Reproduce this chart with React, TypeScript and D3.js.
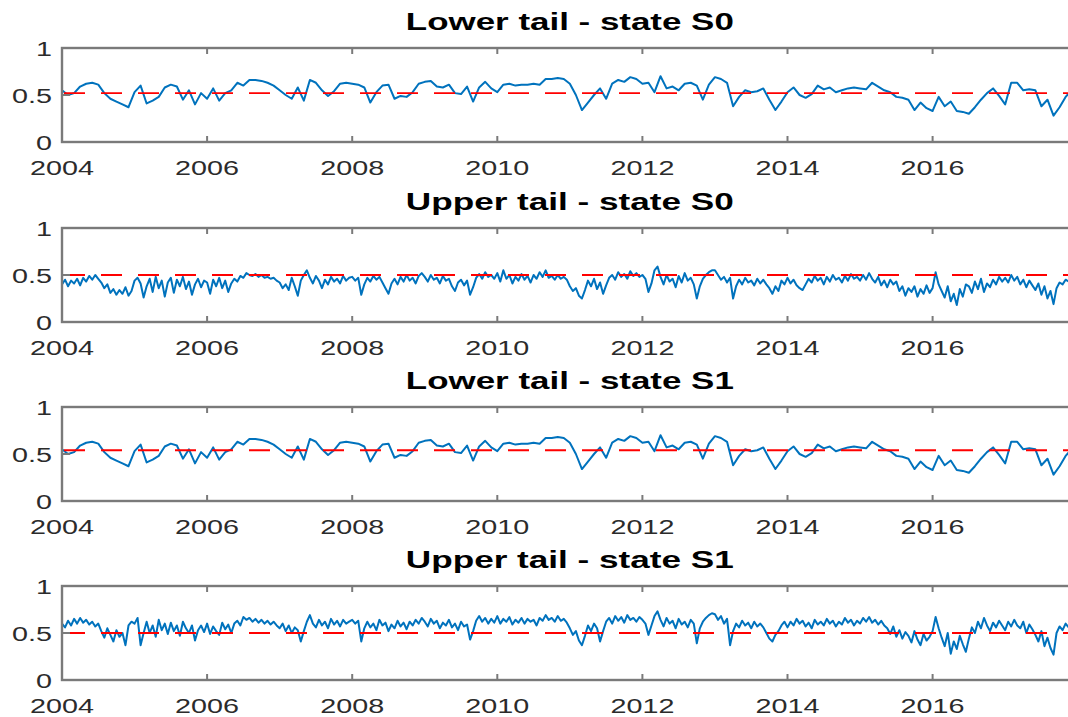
import * as d3 from 'd3';

// monthly estimates (2004.0 .. 2017.92)
const lowerS0 = [
  0.55, 0.50, 0.52, 0.59, 0.62, 0.63, 0.61, 0.52, 0.46, 0.43, 0.40, 0.37,
  0.53, 0.60, 0.41, 0.44, 0.48, 0.58, 0.61, 0.59, 0.45, 0.55, 0.40, 0.52,
  0.46, 0.57, 0.44, 0.52, 0.55, 0.63, 0.60, 0.66, 0.66, 0.65, 0.63, 0.60,
  0.55, 0.50, 0.46, 0.58, 0.44, 0.66, 0.63, 0.55, 0.49, 0.54, 0.62, 0.63,
  0.62, 0.61, 0.58, 0.42, 0.53, 0.60, 0.61, 0.46, 0.49, 0.48, 0.53, 0.62,
  0.64, 0.65, 0.59, 0.58, 0.61, 0.52, 0.51, 0.59, 0.43, 0.58, 0.64, 0.57,
  0.53, 0.61, 0.62, 0.60, 0.61, 0.61, 0.62, 0.61, 0.67, 0.67, 0.68, 0.67,
  0.62, 0.50, 0.34, 0.42, 0.50, 0.57, 0.46, 0.62, 0.66, 0.64, 0.69, 0.67,
  0.62, 0.63, 0.53, 0.70, 0.57, 0.59, 0.55, 0.62, 0.63, 0.60, 0.45, 0.61,
  0.69, 0.67, 0.63, 0.38, 0.48, 0.55, 0.53, 0.54, 0.57, 0.45, 0.34, 0.43,
  0.53, 0.58, 0.50, 0.47, 0.51, 0.60, 0.56, 0.58, 0.53, 0.55, 0.57, 0.58,
  0.57, 0.56, 0.63, 0.59, 0.55, 0.53, 0.48, 0.47, 0.45, 0.34, 0.42, 0.36,
  0.33, 0.48, 0.38, 0.43, 0.33, 0.32, 0.30, 0.37, 0.45, 0.52, 0.57, 0.49,
  0.40, 0.63, 0.63, 0.55, 0.56, 0.55, 0.38, 0.45, 0.28, 0.37, 0.48, 0.55,
];

// half-monthly estimates
const upperS0 = [
  0.40, 0.45, 0.38, 0.44, 0.41, 0.46, 0.39, 0.47, 0.43, 0.49, 0.45, 0.50, 0.46, 0.42, 0.36, 0.40, 0.31, 0.35, 0.29, 0.34, 0.30, 0.37, 0.28, 0.33,
  0.44, 0.47, 0.41, 0.26, 0.38, 0.46, 0.32, 0.48, 0.36, 0.44, 0.27, 0.42, 0.47, 0.31, 0.45, 0.38, 0.48, 0.35, 0.43, 0.29, 0.40, 0.46, 0.37, 0.44,
  0.42, 0.30, 0.45, 0.38, 0.47, 0.36, 0.44, 0.32, 0.41, 0.46, 0.43, 0.49, 0.47, 0.52, 0.50, 0.49, 0.51, 0.48, 0.50, 0.47, 0.48, 0.46, 0.47, 0.44,
  0.42, 0.36, 0.40, 0.34, 0.47, 0.38, 0.28, 0.44, 0.50, 0.55, 0.47, 0.41, 0.49, 0.44, 0.36, 0.45, 0.40, 0.48, 0.43, 0.46, 0.41, 0.49, 0.44, 0.47,
  0.48, 0.44, 0.47, 0.29, 0.40, 0.47, 0.43, 0.49, 0.45, 0.48, 0.42, 0.36, 0.30, 0.41, 0.46, 0.40, 0.48, 0.43, 0.50, 0.44, 0.47, 0.41, 0.49, 0.52,
  0.48, 0.43, 0.50, 0.45, 0.47, 0.41, 0.49, 0.44, 0.46, 0.38, 0.33, 0.42, 0.45, 0.39, 0.44, 0.29, 0.37, 0.47, 0.51, 0.46, 0.53, 0.48, 0.50, 0.46,
  0.52, 0.43, 0.55, 0.46, 0.50, 0.41, 0.48, 0.44, 0.51, 0.45, 0.49, 0.42, 0.50, 0.46, 0.53, 0.48, 0.55, 0.47, 0.49, 0.45, 0.50, 0.46, 0.48, 0.45,
  0.38, 0.33, 0.36, 0.28, 0.25, 0.34, 0.44, 0.38, 0.46, 0.35, 0.42, 0.30, 0.39, 0.47, 0.50, 0.45, 0.53, 0.48, 0.51, 0.46, 0.54, 0.49, 0.52, 0.48,
  0.50, 0.46, 0.32, 0.41, 0.55, 0.59, 0.48, 0.40, 0.50, 0.43, 0.46, 0.37, 0.49, 0.42, 0.52, 0.44, 0.47, 0.40, 0.25, 0.38, 0.46, 0.50, 0.53, 0.55,
  0.55, 0.50, 0.45, 0.48, 0.42, 0.47, 0.25, 0.38, 0.45, 0.40, 0.47, 0.42, 0.44, 0.39, 0.46, 0.41, 0.45, 0.40, 0.36, 0.30, 0.38, 0.33, 0.44, 0.40,
  0.47, 0.41, 0.45, 0.39, 0.36, 0.34, 0.40, 0.46, 0.42, 0.49, 0.44, 0.47, 0.40, 0.48, 0.43, 0.50, 0.45, 0.47, 0.42, 0.49, 0.44, 0.51, 0.46, 0.48,
  0.44, 0.50, 0.45, 0.52, 0.46, 0.42, 0.48, 0.39, 0.44, 0.37, 0.45, 0.40, 0.43, 0.33, 0.38, 0.28, 0.36, 0.32, 0.38, 0.27, 0.35, 0.30, 0.39, 0.31,
  0.36, 0.53, 0.40, 0.33, 0.26, 0.38, 0.22, 0.30, 0.18, 0.35, 0.27, 0.40, 0.38, 0.31, 0.43, 0.35, 0.46, 0.32, 0.41, 0.37, 0.45, 0.40, 0.48, 0.43,
  0.47, 0.42, 0.50, 0.44, 0.48, 0.40, 0.45, 0.37, 0.44, 0.39, 0.34, 0.41, 0.29, 0.38, 0.25, 0.33, 0.19, 0.36, 0.42, 0.40, 0.45, 0.43,
];

const lowerS1 = [
  0.55, 0.50, 0.52, 0.59, 0.62, 0.63, 0.61, 0.52, 0.46, 0.43, 0.40, 0.37,
  0.53, 0.60, 0.41, 0.44, 0.48, 0.58, 0.61, 0.59, 0.45, 0.55, 0.40, 0.52,
  0.46, 0.57, 0.44, 0.52, 0.55, 0.63, 0.60, 0.66, 0.66, 0.65, 0.63, 0.60,
  0.55, 0.50, 0.46, 0.58, 0.44, 0.66, 0.63, 0.55, 0.49, 0.54, 0.62, 0.63,
  0.62, 0.61, 0.58, 0.42, 0.53, 0.60, 0.61, 0.46, 0.49, 0.48, 0.53, 0.62,
  0.64, 0.65, 0.59, 0.58, 0.61, 0.52, 0.51, 0.59, 0.43, 0.58, 0.64, 0.57,
  0.53, 0.61, 0.62, 0.60, 0.61, 0.61, 0.62, 0.61, 0.67, 0.67, 0.68, 0.67,
  0.62, 0.50, 0.34, 0.42, 0.50, 0.57, 0.46, 0.62, 0.66, 0.64, 0.69, 0.67,
  0.62, 0.63, 0.53, 0.70, 0.57, 0.59, 0.55, 0.62, 0.63, 0.60, 0.45, 0.61,
  0.69, 0.67, 0.63, 0.38, 0.48, 0.55, 0.53, 0.54, 0.57, 0.45, 0.34, 0.43,
  0.53, 0.58, 0.50, 0.47, 0.51, 0.60, 0.56, 0.58, 0.53, 0.55, 0.57, 0.58,
  0.57, 0.56, 0.63, 0.59, 0.55, 0.53, 0.48, 0.47, 0.45, 0.34, 0.42, 0.36,
  0.33, 0.48, 0.38, 0.43, 0.33, 0.32, 0.30, 0.37, 0.45, 0.52, 0.57, 0.49,
  0.40, 0.63, 0.63, 0.55, 0.56, 0.55, 0.38, 0.45, 0.28, 0.37, 0.48, 0.55,
];

const upperS1 = [
  0.60, 0.56, 0.63, 0.58, 0.65, 0.60, 0.66, 0.61, 0.64, 0.59, 0.62, 0.57, 0.60, 0.52, 0.45, 0.55, 0.48, 0.41, 0.53, 0.46, 0.50, 0.37, 0.58, 0.62,
  0.60, 0.66, 0.37, 0.50, 0.62, 0.50, 0.58, 0.46, 0.64, 0.53, 0.60, 0.49, 0.61, 0.52, 0.58, 0.47, 0.62, 0.55, 0.50, 0.58, 0.42, 0.53, 0.58, 0.51,
  0.60, 0.49, 0.57, 0.52, 0.48, 0.61, 0.54, 0.59, 0.50, 0.60, 0.63, 0.58, 0.67, 0.64, 0.66, 0.62, 0.65, 0.61, 0.64, 0.60, 0.63, 0.59, 0.62, 0.58,
  0.55, 0.60, 0.52, 0.58, 0.50, 0.56, 0.53, 0.41, 0.52, 0.62, 0.69, 0.60, 0.56, 0.64, 0.58, 0.62, 0.55, 0.65, 0.59, 0.63, 0.57, 0.64, 0.60, 0.62,
  0.64, 0.60, 0.63, 0.41, 0.55, 0.62, 0.56, 0.60, 0.53, 0.64, 0.58, 0.61, 0.52, 0.59, 0.55, 0.63, 0.57, 0.61, 0.54, 0.62, 0.58, 0.64, 0.60, 0.66,
  0.62, 0.57, 0.65, 0.60, 0.63, 0.55, 0.61, 0.58, 0.64, 0.56, 0.60, 0.53, 0.62, 0.57, 0.59, 0.43, 0.52, 0.63, 0.68, 0.62, 0.66, 0.60, 0.65, 0.61,
  0.68, 0.60, 0.65, 0.62, 0.67, 0.59, 0.64, 0.61, 0.66, 0.60, 0.65, 0.62, 0.64, 0.58, 0.66, 0.63, 0.69, 0.64, 0.66, 0.62, 0.68, 0.63, 0.65, 0.61,
  0.55, 0.48, 0.52, 0.42, 0.37, 0.47, 0.58, 0.52, 0.60, 0.55, 0.41, 0.52, 0.62, 0.66, 0.60, 0.68, 0.63, 0.67, 0.61, 0.69, 0.64, 0.66, 0.62, 0.67,
  0.64, 0.60, 0.48, 0.58, 0.68, 0.73, 0.64, 0.57, 0.66, 0.60, 0.63, 0.55, 0.65, 0.59, 0.62, 0.56, 0.64, 0.60, 0.39, 0.55, 0.62, 0.66, 0.69, 0.71,
  0.70, 0.64, 0.68, 0.60, 0.65, 0.37, 0.52, 0.60, 0.56, 0.63, 0.58, 0.61, 0.55, 0.62, 0.57, 0.60, 0.56, 0.50, 0.44, 0.41, 0.48, 0.52, 0.58, 0.62,
  0.56, 0.62, 0.58, 0.65, 0.60, 0.63, 0.57, 0.61, 0.55, 0.64, 0.59, 0.62, 0.58, 0.65, 0.60, 0.63, 0.57, 0.62, 0.59, 0.66, 0.61, 0.64, 0.58, 0.63,
  0.60, 0.66, 0.62, 0.67, 0.61, 0.64, 0.59, 0.63, 0.58, 0.55, 0.49, 0.57, 0.46, 0.53, 0.44, 0.51, 0.47, 0.40, 0.52, 0.43, 0.37, 0.49, 0.42, 0.46,
  0.52, 0.67, 0.55, 0.45, 0.36, 0.50, 0.28, 0.41, 0.33, 0.47, 0.38, 0.30, 0.44, 0.56, 0.50, 0.62, 0.55, 0.66, 0.58, 0.52, 0.61, 0.56, 0.63, 0.58,
  0.53, 0.62, 0.57, 0.64, 0.58, 0.55, 0.62, 0.50, 0.59, 0.54, 0.48, 0.41, 0.52, 0.36, 0.45, 0.34, 0.27, 0.50, 0.57, 0.53, 0.60, 0.56,
];

const titles = ['Lower tail - state S0', 'Upper tail - state S0', 'Lower tail - state S1', 'Upper tail - state S1'];
const seriesList = [lowerS0, upperS0, lowerS1, upperS1];
const perYear = [12, 24, 12, 24];
const meanLevels = [0.52, 0.5, 0.54, 0.5];
const xTickYears = [2004, 2006, 2008, 2010, 2012, 2014, 2016];
const yTickValues = [0, 0.5, 1];

const W = 1068;
const H = 717;
const left = 62;
const pxPerYear = 72.55;
const panelTop = [48, 228, 407, 586];
const panelH = 94;
const axisGrey = '#7a7a7a';
const stretch = 1.37;

export default function App() {
  const x = d3.scaleLinear().domain([2004, 2018]).range([left, left + 14 * pxPerYear]);
  const right = x(2018);

  return (
    <svg width={W} height={H} style={{ position: 'absolute', left: 0, top: 0, background: '#fff' }}
      fontFamily="'Liberation Sans', Arial, sans-serif">
      <defs>
        {panelTop.map((t, i) => (
          <clipPath id={`clip${i}`} key={i}>
            <rect x={left} y={t} width={right - left} height={panelH} />
          </clipPath>
        ))}
      </defs>
      {seriesList.map((values, i) => {
        const top = panelTop[i];
        const y = d3.scaleLinear().domain([0, 1]).range([top + panelH, top]);
        const line = d3.line<number>()
          .x((_, k) => x(2004 + k / perYear[i]))
          .y((v) => y(v));
        return (
          <g key={i}>
            <text
              x={(left + right) / 2}
              y={top - 18}
              textAnchor="middle"
              fontWeight="bold"
              fontSize={23}
              textLength={328}
              lengthAdjust="spacingAndGlyphs"
              fill="#000"
            >
              {titles[i]}
            </text>
            <g clipPath={`url(#clip${i})`}>
              <path d={line(values) ?? ''} fill="none" stroke="#0072BD" strokeWidth={2} strokeLinejoin="round" />
              <line
                x1={x(2004) + 2}
                x2={right}
                y1={y(meanLevels[i])}
                y2={y(meanLevels[i])}
                stroke="#FF0000"
                strokeWidth={1.8}
                strokeDasharray="21 16"
              />
            </g>
            <rect x={left} y={top} width={right - left} height={panelH} fill="none" stroke={axisGrey} strokeWidth={2.4} />
            {xTickYears.map((yr) => (
              <g key={yr}>
                <line x1={x(yr)} x2={x(yr)} y1={top} y2={top + 6} stroke={axisGrey} strokeWidth={2} />
                <line x1={x(yr)} x2={x(yr)} y1={top + panelH} y2={top + panelH - 6} stroke={axisGrey} strokeWidth={2} />
                <text
                  transform={`translate(${x(yr)},${top + panelH + 33}) scale(${stretch},1)`}
                  textAnchor="middle"
                  fontSize={21}
                  fill="#2b2b2b"
                >
                  {yr}
                </text>
              </g>
            ))}
            {yTickValues.map((v) => (
              <g key={v}>
                <line x1={left} x2={left + 8} y1={y(v)} y2={y(v)} stroke={axisGrey} strokeWidth={2} />
                <text
                  transform={`translate(52,${y(v) + 7.5}) scale(${stretch},1)`}
                  textAnchor="end"
                  fontSize={21}
                  fill="#2b2b2b"
                >
                  {v}
                </text>
              </g>
            ))}
          </g>
        );
      })}
    </svg>
  );
}
